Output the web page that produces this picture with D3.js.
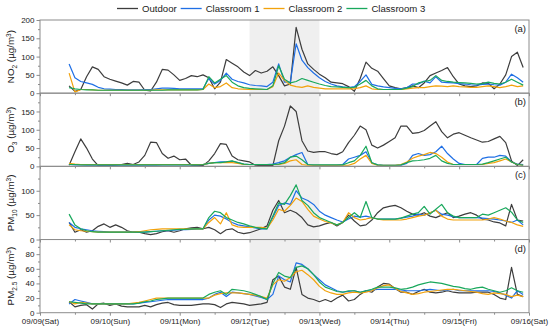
<!DOCTYPE html>
<html>
<head>
<meta charset="utf-8">
<script src="https://cdn.jsdelivr.net/npm/d3@7"></script>
<style>
body { margin: 0; background: #fff; }
text { font-family: "Liberation Sans", Arial, sans-serif; }
</style>
</head>
<body>
<div id="chart"></div>
<script>
// hours since 09/09 00:00, one reading every 2 h
const hours = d3.range(10, 167, 2);
const dayLabels = ["09/09(Sat)", "09/10(Sun)", "09/11(Mon)", "09/12(Tue)", "09/13(Wed)", "09/14(Thu)", "09/15(Fri)", "09/16(Sat)"];
const seriesNames = ["Outdoor", "Classroom 1", "Classroom 2", "Classroom 3"];
const shadeHours = [72, 96];

const no2_outdoor = [20,5,10,45,72,65,45,38,33,28, 22,32,30,8,6,30,65,63,50,35, 40,48,45,50,42,12,30,92,82,72, 58,48,62,55,60,72,48,20,25,180, 120,80,65,52,42,30,28,26,18,5, 40,85,68,60,40,20,15,12,15,20, 15,28,48,55,62,70,45,25,20,18, 20,28,27,12,25,50,100,112,70];
const no2_c1 = [80,42,32,28,24,16,12,11,10,10, 9,9,9,10,10,12,14,14,13,12, 12,12,12,12,40,25,35,55,38,32, 28,23,21,20,18,30,80,30,30,135, 90,70,55,42,32,25,20,17,15,18, 32,50,24,20,17,15,13,12,15,25, 25,33,28,45,30,29,28,26,25,23, 22,24,25,23,22,30,52,42,30];
const no2_c2 = [55,3,10,10,9,8,8,8,8,8, 8,8,8,8,8,9,9,9,9,9, 9,9,9,10,25,15,18,28,15,12, 11,10,10,10,10,18,55,35,22,18, 16,20,16,14,12,12,12,12,12,12, 15,20,12,10,10,10,10,10,12,14, 15,15,18,20,19,18,20,18,17,16, 16,18,20,18,15,18,22,18,20];
const no2_c3 = [15,12,10,9,9,8,8,8,8,8, 8,8,8,8,8,8,8,9,9,9, 9,9,9,10,45,28,38,48,30,20, 15,13,12,11,10,20,75,38,28,32, 40,35,30,25,21,18,17,16,15,16, 25,35,20,12,10,10,10,10,14,18, 28,32,35,48,35,32,30,29,28,27, 25,26,30,27,25,30,38,30,22];

const o3_outdoor = [3,40,75,50,20,2,2,2,3,5, 8,5,12,30,66,65,35,22,28,18, 20,3,2,2,15,35,62,60,28,18, 15,12,3,2,2,2,70,110,165,150, 70,42,38,40,40,35,32,40,65,85, 110,100,58,50,58,68,78,110,110,90, 92,98,110,122,95,78,88,92,85,78, 72,66,68,75,82,65,15,2,18];
const o3_c1 = [5,4,4,3,3,3,3,3,3,3, 3,3,3,3,3,3,4,4,4,4, 4,4,4,5,8,10,12,12,14,10, 6,5,5,5,5,6,10,15,25,32, 38,5,3,3,3,3,3,5,20,25, 30,40,10,4,3,3,3,3,8,30, 35,30,32,40,55,35,20,8,5,5, 5,22,25,25,30,28,12,6,5];
const o3_c2 = [8,6,5,5,5,5,5,5,5,5, 5,5,5,5,5,5,5,5,5,5, 5,5,5,5,8,10,10,10,10,8, 5,5,5,5,5,5,5,8,15,18, 5,3,3,3,3,3,3,3,3,8, 20,30,8,3,3,3,3,5,12,22, 28,32,38,35,25,12,5,5,5,5, 5,5,8,10,15,20,12,5,3];
const o3_c3 = [5,5,4,4,4,4,4,4,4,4, 4,4,4,4,4,4,4,4,4,4, 4,4,4,5,8,10,10,12,15,10, 6,5,5,5,5,5,6,10,25,28, 18,5,4,4,4,4,4,4,10,15, 30,55,10,4,3,3,3,4,10,15, 16,18,22,30,15,8,5,5,5,5, 5,6,10,15,20,25,12,5,3];

const pm10_outdoor = [35,15,20,15,18,27,32,25,30,25, 18,15,15,12,10,12,16,18,15,18, 22,24,25,22,25,20,12,20,22,15, 12,14,18,22,28,60,80,55,60,55, 45,30,26,28,32,35,28,35,50,38, 28,30,40,55,65,68,70,65,58,52, 50,55,48,45,50,55,45,48,52,55, 50,42,40,36,34,28,72,40,38];
const pm10_c1 = [35,25,22,20,18,17,16,15,15,15, 15,15,15,15,16,17,18,18,19,20, 20,21,22,22,40,50,48,42,35,30, 28,26,24,22,22,45,70,75,72,100, 85,80,72,58,50,45,40,36,42,48, 46,48,45,42,42,42,42,44,46,48, 52,50,55,60,52,50,47,45,45,45, 45,44,43,42,40,38,35,40,30];
const pm10_c2 = [30,20,18,17,16,15,15,15,15,15, 15,15,16,18,20,21,22,22,22,22, 22,22,22,22,35,45,32,55,30,26, 25,25,25,25,23,40,62,58,70,85, 78,62,48,42,37,34,30,35,55,45, 40,42,45,42,40,40,40,40,42,45, 48,50,55,60,48,42,40,40,40,40, 40,40,42,45,42,38,35,30,27];
const pm10_c3 = [52,30,22,18,16,15,15,15,15,15, 15,15,15,15,16,17,18,19,20,21, 21,22,22,22,45,58,55,45,40,35, 32,28,25,23,22,48,75,72,90,112, 80,70,55,45,40,35,30,35,45,55, 45,78,45,42,42,42,42,44,48,52, 55,68,52,62,72,55,48,45,45,45, 45,52,50,55,60,65,56,40,35];

const pm25_outdoor = [15,8,10,11,5,12,13,10,12,9, 8,8,8,10,8,11,13,14,11,10, 10,10,11,12,12,11,7,12,14,13, 12,10,11,12,14,45,50,35,32,62, 25,20,18,15,18,15,20,24,16,18, 25,30,28,35,40,39,33,28,28,25, 29,32,28,27,28,30,28,27,27,27, 28,28,28,25,20,18,62,25,22];
const pm25_c1 = [12,18,16,14,12,12,12,12,12,12, 12,12,13,14,15,16,17,18,18,18, 18,18,18,18,20,25,28,22,28,27, 26,25,23,21,18,25,50,45,42,68, 66,60,52,45,38,34,30,28,29,30, 28,30,31,32,32,32,32,31,30,30, 30,31,32,31,30,31,32,30,30,30, 30,30,30,29,27,24,20,30,25];
const pm25_c2 = [15,12,14,13,12,12,12,12,12,12, 12,13,14,16,18,20,20,20,20,20, 20,20,20,20,20,24,26,27,27,27, 26,25,24,22,20,38,45,43,48,56, 58,52,45,36,30,27,25,25,27,28, 27,28,30,34,37,38,33,29,27,25, 26,28,29,30,31,32,32,31,30,29, 28,26,25,27,26,25,22,24,22];
const pm25_c3 = [15,14,13,12,12,12,12,12,12,12, 12,12,13,15,16,18,19,20,20,20, 20,20,20,20,25,28,30,25,32,31, 30,28,25,22,18,40,55,50,48,62, 64,60,52,42,35,32,29,28,30,30, 28,30,32,35,35,35,34,32,33,35, 38,40,42,41,40,38,36,35,33,32, 34,35,32,30,28,30,34,30,28];

const colors = ["#3d3d3d", "#1f6fe5", "#f2a20c", "#19a85c"];

const panels = [
    { tag: "(a)", title: ["NO", "2"], max: 200, step: 50, showTop: true,  data: [no2_outdoor, no2_c1, no2_c2, no2_c3] },
    { tag: "(b)", title: ["O", "3"],  max: 200, step: 50, showTop: false, data: [o3_outdoor, o3_c1, o3_c2, o3_c3] },
    { tag: "(c)", title: ["PM", "10"], max: 150, step: 50, showTop: false, data: [pm10_outdoor, pm10_c1, pm10_c2, pm10_c3] },
    { tag: "(d)", title: ["PM", "2.5"], max: 100, step: 20, showTop: false, data: [pm25_outdoor, pm25_c1, pm25_c2, pm25_c3] }
];

var width = 550;
var height = 332;
var plot = { top: 20, bottom: 312.7, left: 40, right: 529 };
var panelH = (plot.bottom - plot.top) / panels.length;
var axisColor = "#8c8c8c";
var tickFont = 8;

const svg = d3.select("#chart")
    .append("svg")
    .attr("width", width)
    .attr("height", height);

var xScale = d3.scaleLinear()
    .domain([0, 168])
    .range([plot.left, plot.right]);

// grey band for 09/12
svg.append("rect")
    .attr("x", xScale(shadeHours[0]))
    .attr("y", plot.top)
    .attr("width", xScale(shadeHours[1]) - xScale(shadeHours[0]))
    .attr("height", plot.bottom - plot.top)
    .attr("fill", "#efefef");

panels.forEach(function(p, k) {
    var top = plot.top + k * panelH;
    var yScale = d3.scaleLinear()
        .domain([0, p.max])
        .range([top + panelH, top]);

    var g = svg.append("g");

    var line = d3.line()
        .x(function(d, i) { return xScale(hours[i]); })
        .y(function(d) { return yScale(d); });

    p.data.forEach(function(vals, s) {
        g.append("path")
            .attr("d", line(vals))
            .attr("fill", "none")
            .attr("stroke", colors[s])
            .attr("stroke-width", 1.2)
            .attr("stroke-linejoin", "round");
    });

    // frame
    g.append("rect")
        .attr("x", plot.left)
        .attr("y", top)
        .attr("width", plot.right - plot.left)
        .attr("height", panelH)
        .attr("fill", "none")
        .attr("stroke", axisColor)
        .attr("stroke-width", 1);

    // y axis, major + minor
    var major = d3.range(0, p.max + 0.1, p.step).filter(function(v) { return p.showTop || v < p.max; });
    var minor = d3.range(p.step / 2, p.max, p.step);

    var yAxis = d3.axisLeft(yScale).tickValues(major).tickSize(3.5).tickPadding(2);
    var ya = g.append("g")
        .attr("transform", "translate(" + plot.left + ",0)")
        .call(yAxis);
    var yMinor = g.append("g")
        .attr("transform", "translate(" + plot.left + ",0)")
        .call(d3.axisLeft(yScale).tickValues(minor).tickSize(2).tickFormat(""));
    [ya, yMinor].forEach(function(a) {
        a.select(".domain").remove();
        a.selectAll("line").attr("stroke", axisColor);
    });
    ya.selectAll("text")
        .attr("font-size", tickFont)
        .attr("fill", "#222")
        .style("font-family", "'Liberation Sans', Arial, sans-serif");

    // x ticks under each panel
    var xa = g.append("g")
        .attr("transform", "translate(0," + (top + panelH) + ")")
        .call(d3.axisBottom(xScale).tickValues(d3.range(0, 169, 24)).tickSize(3).tickPadding(3)
            .tickFormat(function(d, i) { return k === panels.length - 1 ? dayLabels[i] : ""; }));
    var xm = g.append("g")
        .attr("transform", "translate(0," + (top + panelH) + ")")
        .call(d3.axisBottom(xScale).tickValues(d3.range(12, 168, 24)).tickSize(2).tickFormat(""));
    [xa, xm].forEach(function(a) {
        a.select(".domain").remove();
        a.selectAll("line").attr("stroke", axisColor);
    });
    xa.selectAll("text")
        .attr("font-size", tickFont)
        .attr("fill", "#222")
        .style("font-family", "'Liberation Sans', Arial, sans-serif");

    // panel tag
    g.append("text")
        .attr("x", plot.right - 3)
        .attr("y", top + 12)
        .attr("text-anchor", "end")
        .attr("font-size", 9.5)
        .attr("fill", "#222")
        .text(p.tag);

    // y title with sub / superscript
    var t = g.append("text")
        .attr("transform", "translate(" + 14 + "," + (top + panelH / 2) + ") rotate(-90)")
        .attr("text-anchor", "middle")
        .attr("font-size", 9.8)
        .attr("fill", "#222");
    t.append("tspan").text(p.title[0]);
    t.append("tspan").attr("font-size", 6.5).attr("dy", 2.5).text(p.title[1]);
    t.append("tspan").attr("dy", -2.5).text(" (\u00b5g/m");
    t.append("tspan").attr("font-size", 6.5).attr("dy", -3.5).text("3");
    t.append("tspan").attr("dy", 3.5).text(")");
});

// legend along the top
var lx = 117;
seriesNames.forEach(function(name, s) {
    svg.append("line")
        .attr("x1", lx).attr("x2", lx + 21)
        .attr("y1", 8.5).attr("y2", 8.5)
        .attr("stroke", colors[s])
        .attr("stroke-width", 1.3);
    var txt = svg.append("text")
        .attr("x", lx + 25)
        .attr("y", 8.5)
        .attr("dy", "0.35em")
        .attr("font-size", 9.6)
        .attr("fill", "#222")
        .text(name);
    lx += 25 + txt.node().getComputedTextLength() + 4;
});
</script>
</body>
</html>
